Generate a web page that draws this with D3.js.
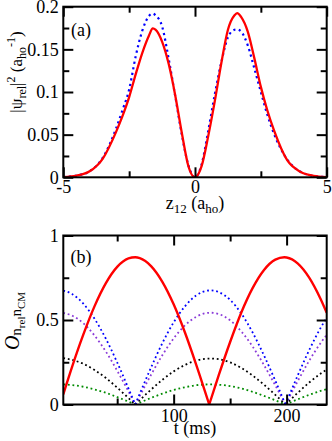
<!DOCTYPE html>
<html>
<head>
<meta charset="utf-8">
<script src="https://cdn.jsdelivr.net/npm/d3@7"></script>
<style>
body { margin: 0; background: #fff; }
text { font-family: "Liberation Serif", "Times New Roman", serif; }
</style>
</head>
<body>
<div id="chart"></div>
<script>

// panel (a): relative wavefunction density
let zVals = [-5, -4.5, -4, -3.5, -3, -2.75, -2.5, -2.25, -2, -1.75, -1.6, -1.5, -1.25, -1, -0.75, -0.5, -0.25, 0,
    0.25, 0.5, 0.75, 1, 1.25, 1.5, 1.6, 1.75, 2, 2.25, 2.5, 2.75, 3, 3.5, 4, 4.5, 5];
let redA = [0.0003, 0.002, 0.007, 0.022, 0.053, 0.072, 0.094, 0.121, 0.146, 0.166, 0.1745, 0.173, 0.159, 0.133, 0.096, 0.052, 0.013, 0,
    0.013, 0.048, 0.089, 0.134, 0.173, 0.190, 0.1925, 0.188, 0.171, 0.140, 0.106, 0.078, 0.055, 0.020, 0.0065, 0.0017, 0.0003];
let blueA = [0.0003, 0.002, 0.007, 0.023, 0.057, 0.079, 0.103, 0.142, 0.172, 0.189, 0.192, 0.190, 0.177, 0.139, 0.095, 0.050, 0.014, 0,
    0.015, 0.054, 0.097, 0.135, 0.164, 0.173, 0.1735, 0.171, 0.155, 0.128, 0.100, 0.073, 0.051, 0.021, 0.0065, 0.0017, 0.0003];

// panel (b): overlaps vs time
let tRed = [2.3, 10, 20, 30, 40, 50, 60, 66, 70, 80, 90, 100, 110, 120, 131.5,
    140, 150, 160, 170, 180, 190, 198, 200, 210, 220, 230, 235.5];
let redB = [0.06, 0.221, 0.413, 0.582, 0.718, 0.814, 0.864, 0.871, 0.866, 0.819, 0.726, 0.593, 0.426, 0.235, 0,
    0.175, 0.370, 0.546, 0.690, 0.796, 0.857, 0.871, 0.870, 0.834, 0.751, 0.626, 0.543];
let tDot = [2.3, 10, 20, 30, 40, 50, 60, 66, 70, 80, 90, 100, 110, 120, 132.5,
    140, 150, 160, 170, 180, 190, 199, 210, 220, 230, 235.5];
let blueB = [0.674, 0.654, 0.597, 0.507, 0.389, 0.249, 0.095, 0, 0.064, 0.219, 0.363, 0.486, 0.581, 0.646, 0.675,
    0.665, 0.619, 0.537, 0.425, 0.290, 0.141, 0, 0.174, 0.322, 0.452, 0.513];
let violetB = [0.542, 0.526, 0.481, 0.408, 0.313, 0.200, 0.077, 0, 0.051, 0.176, 0.292, 0.391, 0.468, 0.519, 0.543,
    0.535, 0.498, 0.432, 0.342, 0.233, 0.113, 0, 0.140, 0.259, 0.363, 0.412];
let blackB = [0.274, 0.264, 0.241, 0.204, 0.157, 0.100, 0.038, 0, 0.026, 0.088, 0.146, 0.196, 0.234, 0.260, 0.272,
    0.268, 0.249, 0.216, 0.171, 0.117, 0.057, 0, 0.070, 0.130, 0.182, 0.206];
let greenB = [0.119, 0.115, 0.105, 0.089, 0.069, 0.044, 0.017, 0, 0.011, 0.039, 0.064, 0.086, 0.102, 0.114, 0.119,
    0.117, 0.109, 0.095, 0.075, 0.051, 0.025, 0, 0.031, 0.057, 0.080, 0.090];

// ticks
let xTicksA = [-5, 0, 5];
let xMinorA = [-2.5, 2.5];
let yTicksA = [0, 0.05, 0.1, 0.15, 0.2];
let yMinorA = [0.025, 0.075, 0.125, 0.175];
let xTicksB = [100, 200];
let xMinorB = [50, 150];
let yTicksB = [0, 0.5, 1];
let yMinorB = [0.25, 0.75];

let svgWidth = 332;
let svgHeight = 441;

let svg = d3.select("#chart")
    .append("svg")
    .attr("width", svgWidth)
    .attr("height", svgHeight);

let left = 63.3, right = 326.7;
let boxA = {top: 6.7, bottom: 177.3};
let boxB = {top: 235.5, bottom: 404.5};

let xA = d3.scaleLinear().domain([-5, 5]).range([left, right]);
let yA = d3.scaleLinear().domain([0, 0.2]).range([boxA.bottom, boxA.top]);
let xB = d3.scaleLinear().domain([2.3, 235.5]).range([left, right]);
let yB = d3.scaleLinear().domain([0, 1]).range([boxB.bottom, boxB.top]);

function clipFor(id, box) {
    svg.append("clipPath").attr("id", id)
        .append("rect")
        .attr("x", left).attr("y", box.top)
        .attr("width", right - left).attr("height", box.bottom - box.top);
}
clipFor("clipA", boxA);
clipFor("clipB", boxB);

// split a series into arches at its zeros so the cusps stay sharp
function arches(ts, vs) {
    let segs = [], cur = [];
    ts.forEach(function (t, i) {
        cur.push([t, vs[i]]);
        if (vs[i] === 0 && cur.length > 1) {
            segs.push(cur);
            cur = [[t, 0]];
        }
    });
    if (cur.length > 1) segs.push(cur);
    return segs;
}

// ---- panel (a) curves
let lineA = d3.line()
    .x(d => xA(d[0]))
    .y(d => yA(d[1]))
    .curve(d3.curveMonotoneX);

let gA = svg.append("g").attr("clip-path", "url(#clipA)");

gA.append("path")
    .datum(zVals.map((z, i) => [z, blueA[i]]))
    .attr("d", lineA)
    .attr("fill", "none")
    .attr("stroke", "#0000ff")
    .attr("stroke-width", 2.2)
    .attr("stroke-dasharray", "2.2,3.4");

gA.append("path")
    .datum(zVals.map((z, i) => [z, redA[i]]))
    .attr("d", lineA)
    .attr("fill", "none")
    .attr("stroke", "#ff0000")
    .attr("stroke-width", 2.3);

// ---- panel (b) curves
let lineB = d3.line()
    .x(d => xB(d[0]))
    .y(d => yB(d[1]))
    .curve(d3.curveMonotoneX);

let gB = svg.append("g").attr("clip-path", "url(#clipB)");

let dotted = [
    {vals: greenB, color: "#008b00"},
    {vals: blackB, color: "#000000"},
    {vals: violetB, color: "#8a3ad8"},
    {vals: blueB, color: "#0000ff"}
];

dotted.forEach(function (s) {
    arches(tDot, s.vals).forEach(function (seg) {
        gB.append("path")
            .datum(seg)
            .attr("d", lineB)
            .attr("fill", "none")
            .attr("stroke", s.color)
            .attr("stroke-width", 1.8)
            .attr("stroke-dasharray", "1.8,2.8");
    });
});

arches(tRed, redB).forEach(function (seg) {
    gB.append("path")
        .datum(seg)
        .attr("d", lineB)
        .attr("fill", "none")
        .attr("stroke", "#ff0000")
        .attr("stroke-width", 2.4)
        .attr("stroke-linejoin", "round");
});

// ---- frames and ticks
function drawAxes(x, y, box, xMaj, xMin, yMaj, yMin, xPad) {
    let fmt = d => String(d);
    let none = () => "";
    let b = svg.append("g").attr("transform", `translate(0, ${box.bottom})`);
    b.call(d3.axisBottom(x).tickValues(xMaj).tickSize(-10).tickPadding(xPad).tickFormat(fmt));
    b.append("g").call(d3.axisBottom(x).tickValues(xMin).tickSize(-6).tickFormat(none));

    let t = svg.append("g").attr("transform", `translate(0, ${box.top})`);
    t.call(d3.axisTop(x).tickValues(xMaj).tickSize(-10).tickFormat(none));
    t.append("g").call(d3.axisTop(x).tickValues(xMin).tickSize(-6).tickFormat(none));

    let l = svg.append("g").attr("transform", `translate(${left}, 0)`);
    l.call(d3.axisLeft(y).tickValues(yMaj).tickSize(-10).tickPadding(4.5).tickFormat(fmt));
    l.append("g").call(d3.axisLeft(y).tickValues(yMin).tickSize(-6).tickFormat(none));

    let r = svg.append("g").attr("transform", `translate(${right}, 0)`);
    r.call(d3.axisRight(y).tickValues(yMaj).tickSize(-10).tickFormat(none));
    r.append("g").call(d3.axisRight(y).tickValues(yMin).tickSize(-6).tickFormat(none));

    svg.append("rect")
        .attr("x", left).attr("y", box.top)
        .attr("width", right - left).attr("height", box.bottom - box.top)
        .attr("fill", "none")
        .attr("stroke", "#000")
        .attr("stroke-width", 2);
}

drawAxes(xA, yA, boxA, xTicksA, xMinorA, yTicksA, yMinorA, 3);
drawAxes(xB, yB, boxB, xTicksB, xMinorB, yTicksB, yMinorB, 5);

svg.selectAll(".domain").remove();
svg.selectAll(".tick line").attr("stroke", "#000").attr("stroke-width", 2);
svg.selectAll(".tick text")
    .attr("fill", "#000")
    .style("font-size", "18px")
    .style("font-family", "'Liberation Serif', 'Times New Roman', serif");

// ---- labels
function addText(x, y, rot) {
    return svg.append("text")
        .attr("transform", `translate(${x}, ${y})` + (rot ? ` rotate(${rot})` : ""))
        .attr("text-anchor", "middle")
        .attr("fill", "#000")
        .style("font-size", "18px");
}

// z12 (aho)
let xl = addText(195, 209, 0);
xl.append("tspan").text("z");
xl.append("tspan").attr("dy", 4).style("font-size", "13px").text("12");
xl.append("tspan").attr("dy", -4).text(" (a");
xl.append("tspan").attr("dy", 4).style("font-size", "13px").text("ho");
xl.append("tspan").attr("dy", -4).text(")");

// |psi_rel|^2 (aho^-1)
let yl = addText(22, 72, -90);
yl.style("font-size", "17px");
yl.append("tspan").text("|ψ");
yl.append("tspan").attr("dy", 4).style("font-size", "12px").text("rel");
yl.append("tspan").attr("dy", -4).text("|");
yl.append("tspan").attr("dy", -7).style("font-size", "12px").text("2");
yl.append("tspan").attr("dy", 7).text(" (a");
yl.append("tspan").attr("dy", 4).style("font-size", "12px").text("ho");
yl.append("tspan").attr("dy", -11).style("font-size", "12px").text("-1");
yl.append("tspan").attr("dy", 7).text(")");

// t (ms)
addText(195, 434, 0).text("t (ms)");

// O_{n_rel n_CM}
let ol = addText(18.5, 321, -90);
ol.append("tspan").style("font-style", "italic").style("font-size", "20px").text("O");
ol.append("tspan").attr("dy", 2).style("font-size", "15px").text("n");
ol.append("tspan").attr("dy", 4).style("font-size", "11px").text("rel");
ol.append("tspan").attr("dy", -4).style("font-size", "15px").text("n");
ol.append("tspan").attr("dy", 4).style("font-size", "11px").text("CM");

// panel tags
addText(81, 36, 0).text("(a)");
addText(81, 263, 0).text("(b)");

</script>
</body>
</html>
